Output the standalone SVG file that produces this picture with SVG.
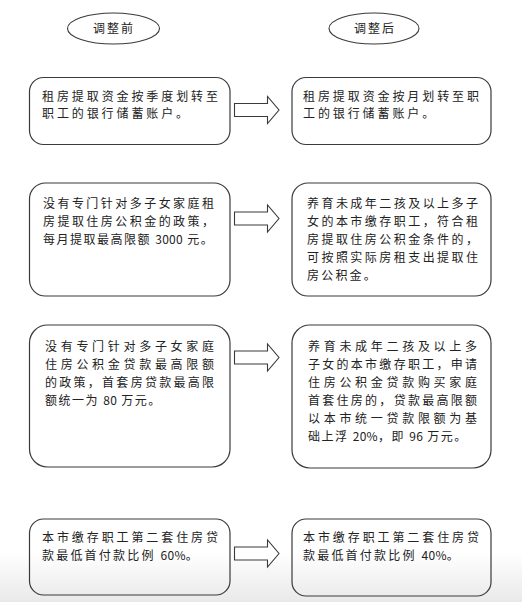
<svg xmlns="http://www.w3.org/2000/svg" width="522" height="602" viewBox="0 0 522 602">
<defs>
<linearGradient id="fade" x1="0" y1="0" x2="0" y2="1">
<stop offset="0" stop-color="#ffffff"/>
<stop offset="1" stop-color="#e9e9e9"/>
</linearGradient>
</defs>
<style>
.box{fill:none;stroke:#3a3a3a;stroke-width:1.2}
.ell{fill:none;stroke:#3a3a3a;stroke-width:1.1}
.arr{fill:#fff;stroke:#3a3a3a;stroke-width:1.1;stroke-linejoin:miter}
text{font-family:"Noto Sans CJK SC","Noto Sans",sans-serif;font-size:12px;fill:#222}
.h{font-size:12px;text-anchor:middle;letter-spacing:2px}
.l{letter-spacing:2.2px}
.t{letter-spacing:1.5px}
.k{letter-spacing:2.9px}
.d{letter-spacing:0.3px}
</style>
<rect x="0" y="0" width="522" height="602" fill="#fff"/>
<rect x="0" y="552" width="522" height="50" fill="url(#fade)"/>

<g id="head-before">
<ellipse class="ell" cx="113.5" cy="28.5" rx="46" ry="15.5"/>
<text class="h" x="114" y="33">调整前</text>
</g>
<g id="head-after">
<ellipse class="ell" cx="374" cy="28.5" rx="45" ry="15.5"/>
<text class="h" x="375" y="33">调整后</text>
</g>

<g id="before-1">
<rect class="box" x="29.5" y="77.5" width="200.5" height="67" rx="14"/>
<text x="42" y="100.5" textLength="176" lengthAdjust="spacing">租房提取资金按季度划转至</text>
<text class="k" x="42" y="118">职工的银行储蓄账户。</text>
</g>
<g id="after-1">
<rect class="box" x="292" y="77.5" width="199" height="67" rx="14"/>
<text x="303" y="100.5" textLength="176" lengthAdjust="spacing">租房提取资金按月划转至职</text>
<text class="k" x="303" y="118">工的银行储蓄账户。</text>
</g>

<g id="before-2">
<rect class="box" x="29.5" y="183" width="200.5" height="113" rx="16"/>
<text x="43" y="208" textLength="171" lengthAdjust="spacing">没有专门针对多子女家庭租</text>
<text x="43" y="226" textLength="171" lengthAdjust="spacing">房提取住房公积金的政策，</text>
<text class="t" x="43" y="244">每月提取最高限额 <tspan class="d">3000</tspan> 元。</text>
</g>
<g id="after-2">
<rect class="box" x="292" y="183" width="199" height="113" rx="16"/>
<text x="307" y="208" textLength="171" lengthAdjust="spacing">养育未成年二孩及以上多子</text>
<text x="307" y="226" textLength="171" lengthAdjust="spacing">女的本市缴存职工，符合租</text>
<text x="307" y="244" textLength="171" lengthAdjust="spacing">房提取住房公积金条件的，</text>
<text x="307" y="262" textLength="171" lengthAdjust="spacing">可按照实际房租支出提取住</text>
<text class="l" x="307" y="280">房公积金。</text>
</g>

<g id="before-3">
<rect class="box" x="29.5" y="325" width="200.5" height="142" rx="18"/>
<text x="45" y="351" textLength="169" lengthAdjust="spacing">没有专门针对多子女家庭</text>
<text x="45" y="369" textLength="169" lengthAdjust="spacing">住房公积金贷款最高限额</text>
<text x="45" y="387" textLength="169" lengthAdjust="spacing">的政策，首套房贷款最高限</text>
<text class="t" x="45" y="405">额统一为 <tspan class="d">80</tspan> 万元。</text>
</g>
<g id="after-3">
<rect class="box" x="292" y="325" width="199" height="143" rx="18"/>
<text x="308" y="351" textLength="169" lengthAdjust="spacing">养育未成年二孩及以上多</text>
<text x="308" y="369" textLength="169" lengthAdjust="spacing">子女的本市缴存职工，申请</text>
<text x="308" y="387" textLength="169" lengthAdjust="spacing">住房公积金贷款购买家庭</text>
<text x="308" y="405" textLength="169" lengthAdjust="spacing">首套住房的，贷款最高限额</text>
<text x="308" y="423" textLength="169" lengthAdjust="spacing">以本市统一贷款限额为基</text>
<text class="t" x="308" y="441">础上浮 <tspan class="d">20%</tspan>，即 <tspan class="d">96</tspan> 万元。</text>
</g>

<g id="before-4">
<rect class="box" x="29.5" y="519" width="200.5" height="76" rx="14"/>
<text x="42" y="542" textLength="176" lengthAdjust="spacing">本市缴存职工第二套住房贷</text>
<text class="l" x="42" y="560">款最低首付款比例 <tspan class="d">60%</tspan>。</text>
</g>
<g id="after-4">
<rect class="box" x="292" y="519" width="199" height="77" rx="14"/>
<text x="303" y="542" textLength="176" lengthAdjust="spacing">本市缴存职工第二套住房贷</text>
<text class="l" x="303" y="560">款最低首付款比例 <tspan class="d">40%</tspan>。</text>
</g>

<g id="connectors">
<path class="arr" d="M234.5,103.5 H267.5 V96.5 L279,110 L267.5,123.5 V116.5 H234.5 Z"/>
<path class="arr" d="M234.5,212 H267.5 V205 L279,218.5 L267.5,232 V225 H234.5 Z"/>
<path class="arr" d="M234.5,351 H267.5 V344 L279,357.5 L267.5,371 V364 H234.5 Z"/>
<path class="arr" d="M234.5,547 H267.5 V540 L279,553.5 L267.5,567 V560 H234.5 Z"/>
</g>
</svg>
